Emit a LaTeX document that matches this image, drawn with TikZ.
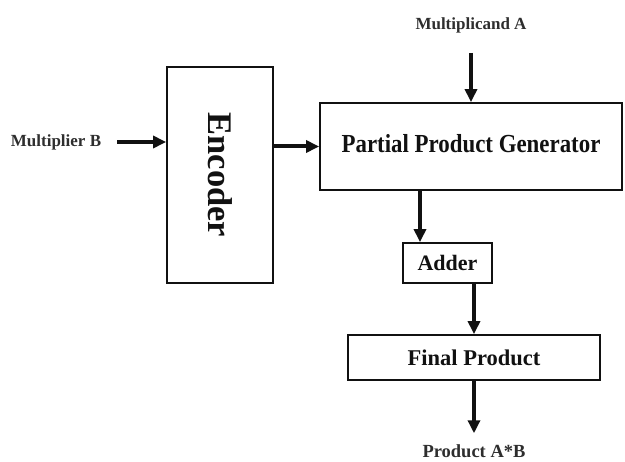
\documentclass[tikz,border=0pt]{standalone}
\usepackage{fontspec}
\setmainfont{Liberation Serif}
\usetikzlibrary{arrows.meta, positioning}
\definecolor{DiagBlack}{HTML}{111111}
\definecolor{LabelGray}{HTML}{2E2E2E}
\tikzset{
    box/.style={
        draw=DiagBlack,
        line width=1.8pt,
        fill=white,
        text=DiagBlack,
        font=\bfseries,
        align=center,
        inner sep=0pt
    },
    iolabel/.style={
        text=LabelGray,
        font=\fontsize{17}{20}\selectfont\bfseries,
        inner sep=2pt
    },
    arrow/.style={
        -{Triangle[length=13pt, width=12pt]},
        line width=4pt,
        DiagBlack
    }
}
\begin{document}
\begin{tikzpicture}[x=1pt, y=-1pt]
    \useasboundingbox (0,0) rectangle (625,462);

    % blocks
    \node[box, minimum width=106pt, minimum height=216pt, font=\fontsize{34.5}{36}\selectfont\bfseries] (enc) at (220,175) {\rotatebox{-90}{Encoder}};
    \node[box, minimum width=302pt, minimum height=87pt, font=\fontsize{26}{28}\selectfont\bfseries] (ppg) at (471,146.5) {\raisebox{6pt}{\scalebox{0.88}[1]{Partial Product Generator}}};
    \node[box, minimum width=89pt, minimum height=40pt, font=\fontsize{22}{24}\selectfont\bfseries] (adder) at (447.5,263) {Adder};
    \node[box, minimum width=252pt, minimum height=45pt, font=\fontsize{22.5}{24}\selectfont\bfseries] (fin) at (474,357.5) {Final Product};

    % inputs and output
    \node[iolabel] (mulb) at (56,142) {Multiplier B};
    \node[iolabel] (mula) at (471,25) {Multiplicand A};
    \node[iolabel, font=\fontsize{18.5}{20}\selectfont\bfseries] (prod) at (474,451) {Product A*B};

    \draw[arrow] ([xshift=14pt]mulb.east) -- (mulb.east -| enc.west);
    \draw[arrow] (ppg.west -| enc.east) -- (ppg.west);
    \draw[arrow, shorten <=18pt] (mula.south) -- (mula.south |- ppg.north);
    \draw[arrow] ([xshift=-27.5pt]adder.north |- ppg.south) -- ([xshift=-27.5pt]adder.north);
    \draw[arrow] (adder.south -| fin.north) -- (fin.north);
    \draw[arrow, shorten >=9pt] (fin.south) -- (prod.north);
\end{tikzpicture}
\end{document}
